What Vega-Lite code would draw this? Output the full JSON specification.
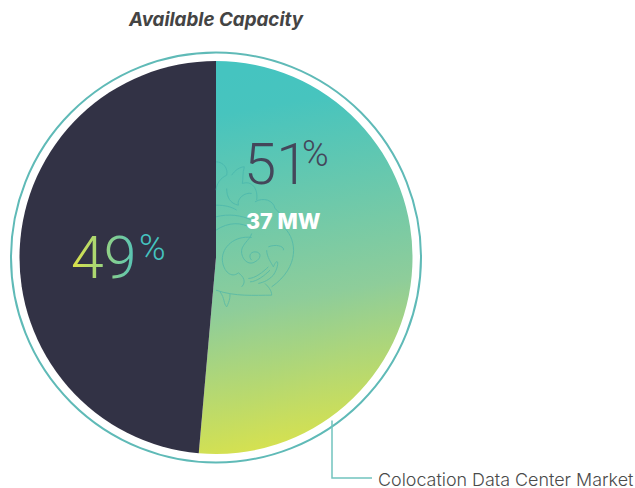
{
"$schema":"https://vega.github.io/schema/vega-lite/v6.json",
"width":432,"height":461,
"autosize":"none",
"padding":{"left":0,"top":27,"right":203,"bottom":0},
"background":"white",
"title":{"text":"Available Capacity","anchor":"middle","font":"Inter","fontSize":18.8,"fontWeight":700,"fontStyle":"italic","color":"#444444","offset":-3},
"config":{"view":{"stroke":null}},
"data":{"values":[{"segment":"Colocation Data Center Market","rank":1,"share":51.4},{"segment":"Other","rank":2,"share":48.6}]},
"layer":[
{"mark":{"type":"arc","radius":196.5},
 "encoding":{
  "theta":{"field":"share","type":"quantitative","stack":true},
  "order":{"field":"rank"},
  "detail":{"field":"segment"},
  "fill":{"condition":{"test":"datum.rank===1","value":{"gradient":"linear","x1":0.45,"y1":0,"x2":0.55,"y2":1,"stops":[{"offset":0,"color":"#45c4c0"},{"offset":0.1,"color":"#47c4be"},{"offset":0.6,"color":"#8ecd9a"},{"offset":1,"color":"#dce349"}]}},"value":"#323245"}
 }},
{"data":{"values":[{"k":"watermark"}]},"mark":{"type":"point","shape":"M0-287C22-287 37-267 32-247C12-237 2-222 0-202M47-247C57-262 72-272 85-272C79-252 82-237 79-222M79-222C107-232 127-207 122-172M0-157C27-157 47-152 62-142M32-207C32-182 42-162 67-157M67-157C62-177 87-197 107-192M117-167C142-182 172-172 177-147M0-122C37-132 77-127 107-112M0-82C37-107 77-107 107-87M107-60C57-67 17-32 19 8C22 43 47 63 67 46C82 56 92 73 77 88M107-72C102-52 72-37 77-12C82 13 102 23 117 13C137 3 137-17 117-17C102-17 97-2 107 8M177-147C197-132 212-97 207-87C242-52 252 28 167 88M157-32C182-42 207-32 202-22M152-22C152-2 167 18 172 28C187-7 192 23 172 53M172 53C157 68 147 73 127 78M97 63C117 63 142 43 157 28M102 73C122 73 147 53 162 38M0 98C57 118 117 113 167 113C167 98 157 88 147 78M12 103C27 123 22 138 32 148C42 128 42 118 42 108","size":0.4444,"filled":false,"stroke":"#3fb0ac","strokeWidth":1,"opacity":0.55},"encoding":{}},
{"data":{"values":[{"k":"ring"}]},"mark":{"type":"point","shape":"circle","size":168100,"filled":false,"stroke":"#5fbab7","strokeWidth":2,"opacity":1},"encoding":{}},
{"data":{"values":[{"k":"leader"}]},"mark":{"type":"point","shape":"M116 163V220.5H156","size":4,"filled":false,"stroke":"#72c4bf","strokeWidth":1.5,"opacity":1},"encoding":{}},
{"data":{"values":[{"t":"51"}]},"mark":{"type":"text","font":"Roboto","fontWeight":300,"fontSize":58,"fill":"#44465a","align":"left","baseline":"alphabetic","dx":28,"dy":-74},"encoding":{"text":{"field":"t"}}},
{"data":{"values":[{"t":"%"}]},"mark":{"type":"text","font":"Roboto","fontWeight":300,"fontSize":36,"fill":"#44465a","align":"left","baseline":"alphabetic","dx":86,"dy":-92},"encoding":{"text":{"field":"t"}}},
{"data":{"values":[{"t":"37 MW"}]},"mark":{"type":"text","font":"Inter","fontWeight":800,"fontSize":21.5,"fill":"#ffffff","align":"left","baseline":"alphabetic","dx":30,"dy":-29},"encoding":{"text":{"field":"t"}}},
{"data":{"values":[{"t":"49"}]},"mark":{"type":"text","font":"Roboto","fontWeight":300,"fontSize":59,"fill":{"gradient":"linear","x1":0,"y1":0.5,"x2":1,"y2":0.5,"stops":[{"offset":0,"color":"#e0e346"},{"offset":1,"color":"#52c3ba"}]},"align":"left","baseline":"alphabetic","dx":-145,"dy":20},"encoding":{"text":{"field":"t"}}},
{"data":{"values":[{"t":"%"}]},"mark":{"type":"text","font":"Roboto","fontWeight":300,"fontSize":36,"fill":"#45c4c0","align":"left","baseline":"alphabetic","dx":-77,"dy":2},"encoding":{"text":{"field":"t"}}},
{"data":{"values":[{"t":"Colocation Data Center Market"}]},"mark":{"type":"text","font":"Inter","fontWeight":300,"fontSize":17.9,"fill":"#4a4a4a","align":"left","baseline":"alphabetic","dx":162,"dy":228},"encoding":{"text":{"field":"t"}}}
]
}
